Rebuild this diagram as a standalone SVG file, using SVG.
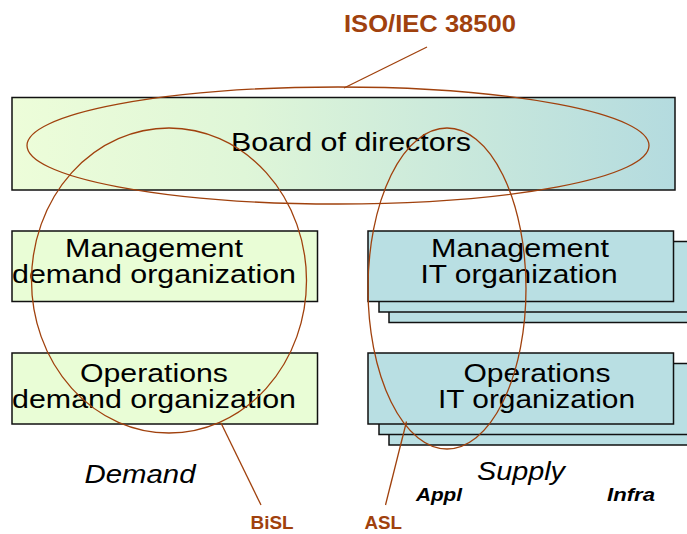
<svg xmlns="http://www.w3.org/2000/svg" width="687" height="534" viewBox="0 0 687 534">
<defs>
<linearGradient id="boardGrad" x1="0" y1="0" x2="1" y2="0">
<stop offset="0" stop-color="#EDFDD9"/>
<stop offset="0.35" stop-color="#DFF6D8"/>
<stop offset="1" stop-color="#B4DBDF"/>
</linearGradient>
</defs>
<style>
.box{stroke:#111;stroke-width:1.5}
.dem{fill:#E9FDD6}
.it{fill:#B9DFE3}
.t{font-family:"Liberation Sans",Arial,sans-serif;font-size:25px;fill:#000;text-anchor:middle}
.lbl{font-family:"Liberation Sans",Arial,sans-serif;font-weight:bold;fill:#A0410D}
.ov{fill:none;stroke:#A0410D;stroke-width:1.3}
.it2{font-family:"Liberation Sans",Arial,sans-serif;font-style:italic;fill:#000}
</style>
<g id="board">
<rect class="box" x="12" y="97.5" width="663" height="92.5" fill="url(#boardGrad)"/>
<text class="t" x="351" y="150.5" font-size="27" textLength="240" lengthAdjust="spacingAndGlyphs">Board of directors</text>
</g>
<g id="mgmt-demand">
<rect class="box dem" x="12" y="231" width="305.5" height="70.5"/>
<text class="t" x="154" y="256.5" textLength="178" lengthAdjust="spacingAndGlyphs">Management</text>
<text class="t" x="154" y="283" textLength="284" lengthAdjust="spacingAndGlyphs">demand organization</text>
</g>
<g id="ops-demand">
<rect class="box dem" x="12" y="353" width="305.5" height="71"/>
<text class="t" x="154" y="381.5" textLength="148" lengthAdjust="spacingAndGlyphs">Operations</text>
<text class="t" x="154" y="408" textLength="284" lengthAdjust="spacingAndGlyphs">demand organization</text>
</g>
<g id="mgmt-it">
<rect class="box it" x="389" y="252" width="310" height="70.5"/>
<rect class="box it" x="379" y="241.5" width="310" height="70.5"/>
<rect class="box it" x="368" y="231" width="305.5" height="70.5"/>
<text class="t" x="520" y="256.5" textLength="178" lengthAdjust="spacingAndGlyphs">Management</text>
<text class="t" x="519" y="283" textLength="197" lengthAdjust="spacingAndGlyphs">IT organization</text>
</g>
<g id="ops-it">
<rect class="box it" x="389" y="374" width="310" height="71"/>
<rect class="box it" x="379" y="363.5" width="310" height="71"/>
<rect class="box it" x="368" y="353" width="305.5" height="71"/>
<text class="t" x="537" y="381.5" textLength="147" lengthAdjust="spacingAndGlyphs">Operations</text>
<text class="t" x="536.5" y="408" textLength="197" lengthAdjust="spacingAndGlyphs">IT organization</text>
</g>
<g id="connectors">
<ellipse class="ov" cx="338" cy="145.5" rx="311" ry="58.5"/>
<ellipse class="ov" cx="169" cy="280.5" rx="137.5" ry="152.5"/>
<ellipse class="ov" cx="447" cy="288.5" rx="79" ry="160.5"/>
<line class="ov" x1="427" y1="47" x2="344" y2="88"/>
<line class="ov" x1="221" y1="423" x2="261" y2="505"/>
<line class="ov" x1="406.5" y1="421.5" x2="385.5" y2="505"/>
</g>
<g id="labels">
<text class="lbl" x="344" y="32" font-size="23" textLength="172" lengthAdjust="spacingAndGlyphs">ISO/IEC 38500</text>
<text class="lbl" x="250.5" y="529" font-size="19" textLength="43" lengthAdjust="spacingAndGlyphs">BiSL</text>
<text class="lbl" x="364.5" y="529" font-size="19" textLength="37.5" lengthAdjust="spacingAndGlyphs">ASL</text>
<text class="it2" x="84.5" y="483" font-size="25" textLength="111" lengthAdjust="spacingAndGlyphs">Demand</text>
<text class="it2" x="477" y="480" font-size="25" textLength="88" lengthAdjust="spacingAndGlyphs">Supply</text>
<text class="it2" x="416" y="500.5" font-size="19" font-weight="bold" textLength="46" lengthAdjust="spacingAndGlyphs">Appl</text>
<text class="it2" x="607" y="500.5" font-size="19" font-weight="bold" textLength="48" lengthAdjust="spacingAndGlyphs">Infra</text>
</g>
</svg>
